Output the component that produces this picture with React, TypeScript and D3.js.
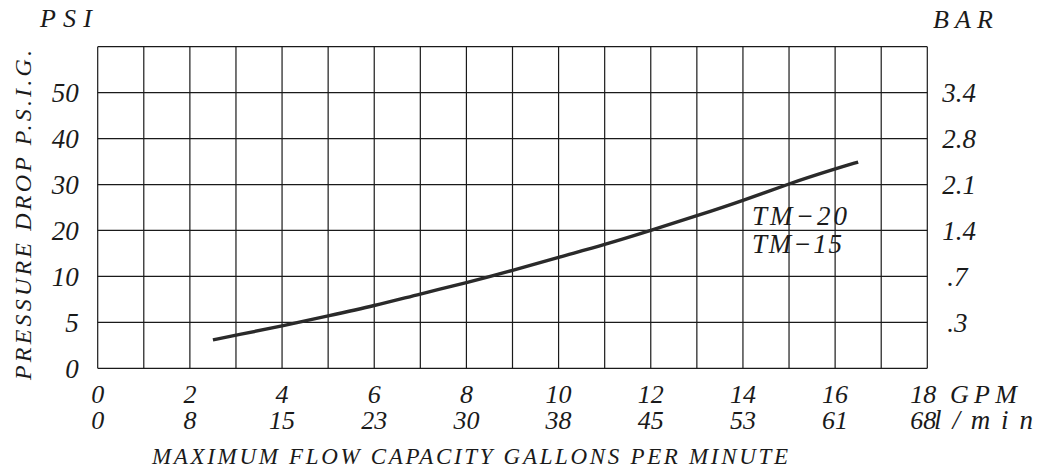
import React from 'react';
import * as d3 from 'd3';

// flow axis
const gpmTicks = [0, 2, 4, 6, 8, 10, 12, 14, 16, 18];
const lpmLabels = ['0', '8', '15', '23', '30', '38', '45', '53', '61', '68'];
// pressure axis (non-linear spacing, one grid row per step)
const psiSteps = [0, 5, 10, 20, 30, 40, 50, 60];
const psiLabels = ['0', '5', '10', '20', '30', '40', '50'];
const barLabels = ['', '.3', '.7', '1.4', '2.1', '2.8', '3.4'];

// TM-20 / TM-15 curve
const flowGpm = [2.5, 3, 4, 5, 6, 7, 8, 9, 10, 11, 12, 13, 14, 15, 16, 16.5];
const dropPsi = [3.1, 3.6, 4.6, 5.7, 6.8, 8.1, 9.3, 11.3, 14.2, 16.9, 20.0, 23.2, 26.5, 30.2, 33.4, 34.9];

const W = 1037;
const H = 469;
const left = 97.7;
const right = 927.3;
const top = 46.7;
const bottom = 368.3;

const font = '"Liberation Serif", "DejaVu Serif", serif';
const ink = '#1a1a1a';

const App: React.FC = () => {
  const x = d3.scaleLinear().domain([0, 18]).range([left, right]);
  const rowH = (bottom - top) / (psiSteps.length - 1);
  // piecewise scale so each psi step gets an equal row
  const y = d3.scaleLinear()
    .domain(psiSteps)
    .range(psiSteps.map((_, i) => bottom - i * rowH));

  const pts = flowGpm.map((g, i) => [x(g), y(dropPsi[i])] as [number, number]);
  const line = d3.line().curve(d3.curveBasis)(pts) || '';

  const cols = d3.range(0, 19);

  const txt = { fontFamily: font, fontStyle: 'italic', fill: ink } as const;

  return (
    <svg width={W} height={H} style={{ position: 'absolute', left: 0, top: 0, background: '#fff' }}>
      {/* grid */}
      <g stroke={ink} strokeWidth={1.2} fill="none">
        {cols.map(c => (
          <line key={'v' + c} x1={x(c)} x2={x(c)} y1={top} y2={bottom} />
        ))}
        {psiSteps.map(p => (
          <line key={'h' + p} x1={left} x2={right} y1={y(p)} y2={y(p)} />
        ))}
      </g>

      {/* curve */}
      <path d={line} fill="none" stroke="#2a2a2a" strokeWidth={3.4} />

      {/* left psi labels */}
      {psiLabels.map((l, i) => (
        <text key={'p' + i} x={left - 19} y={y(psiSteps[i])} dy="0.35em" textAnchor="end" fontSize={27} {...txt}>
          {l}
        </text>
      ))}

      {/* right bar labels */}
      {barLabels.map((l, i) => (
        l ? (
          <text key={'b' + i} x={l.startsWith('.') ? right + 20 : right + 15} y={y(psiSteps[i])} dy="0.35em" fontSize={27} {...txt}>
            {l}
          </text>
        ) : null
      ))}

      {/* bottom labels */}
      {gpmTicks.map((g, i) => (
        <g key={'g' + g}>
          <text x={x(g) - (g === 18 ? 4 : 0)} y={403} textAnchor="middle" fontSize={26} {...txt}>{g}</text>
          <text x={x(g) - (g === 18 ? 4 : 0)} y={429} textAnchor="middle" fontSize={26} {...txt}>{lpmLabels[i]}</text>
        </g>
      ))}
      <text x={950} y={403} fontSize={26} textLength={67} lengthAdjust="spacing" {...txt}>GPM</text>
      <text x={934} y={429} fontSize={27} textLength={99} lengthAdjust="spacing" {...txt}>l/min</text>

      {/* axis titles */}
      <text x={40} y={27} fontSize={26} textLength={52} lengthAdjust="spacing" {...txt}>PSI</text>
      <text x={933} y={28} fontSize={26} textLength={60} lengthAdjust="spacing" {...txt}>BAR</text>
      <text x={152} y={464} fontSize={23} textLength={636} lengthAdjust="spacing" {...txt}>
        MAXIMUM FLOW CAPACITY GALLONS PER MINUTE
      </text>
      <text transform="translate(31,380) rotate(-90)" fontSize={24} textLength={330} lengthAdjust="spacing" {...txt}>
        PRESSURE DROP P.S.I.G.
      </text>

      {/* curve labels */}
      <text x={752} y={225} fontSize={27} textLength={95} lengthAdjust="spacing" {...txt}>TM−20</text>
      <text x={752} y={253} fontSize={27} textLength={90} lengthAdjust="spacing" {...txt}>TM−15</text>
    </svg>
  );
};

export default App;
